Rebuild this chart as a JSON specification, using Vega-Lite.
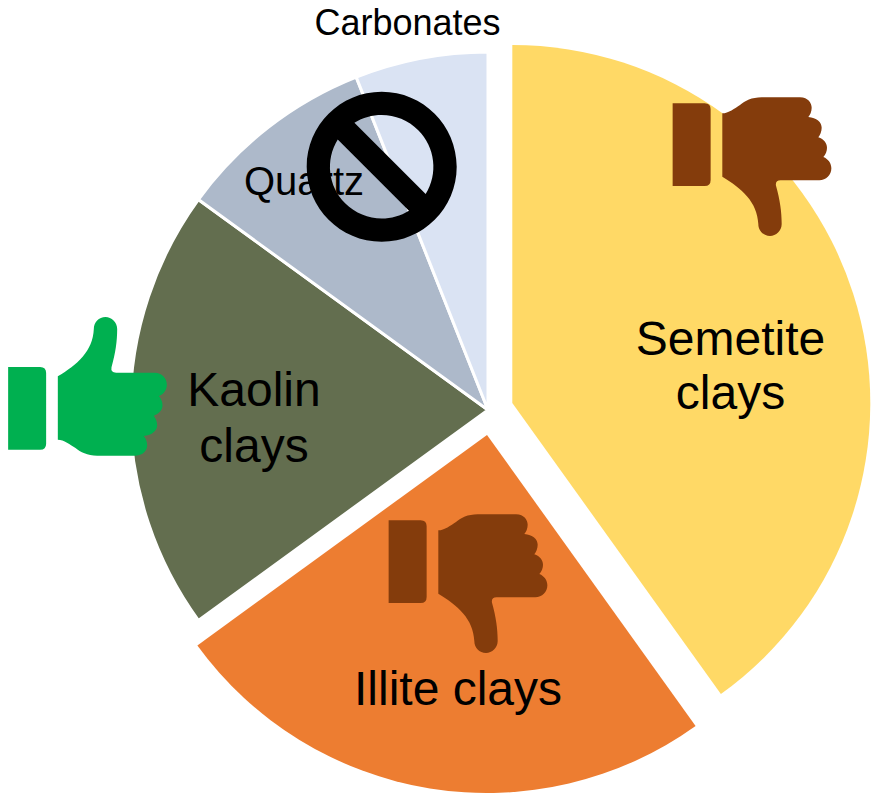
{
"$schema":"https://vega.github.io/schema/vega-lite/v6.json",
"width":871,"height":793,"padding":0,"autosize":{"type":"fit","contains":"padding"},
"background":"white",
"config":{"view":{"stroke":null}},
"datasets":{
"slices":[
{"slice":"Semetite clays","value":40.1,"order":1,"label":"Semetite\nclays"},
{"slice":"Illite clays","value":24.9,"order":2,"label":"Illite clays"},
{"slice":"Kaolin clays","value":20,"order":3,"label":"Kaolin\nclays"},
{"slice":"Quartz","value":9,"order":4,"label":"Quartz"},
{"slice":"Carbonates","value":6,"order":5,"label":"Carbonates"}
]},
"data":{"name":"slices"},
"transform":[{"stack":"value","groupby":[],"sort":[{"field":"order","order":"ascending"}],"as":["v0","v1"]}],
"encoding":{},
"layer":[
{"transform":[{"filter":"datum.slice=='Kaolin clays'||datum.slice=='Quartz'||datum.slice=='Carbonates'"}],
 "mark":{"type":"arc","radius":358,"xOffset":52.5,"yOffset":13.5,"stroke":"white","strokeWidth":3},
 "encoding":{"theta":{"field":"v0","type":"quantitative","stack":null,"scale":{"domain":[0,100]}},"theta2":{"field":"v1"},
 "color":{"field":"slice","type":"nominal","legend":null,"scale":{"domain":["Semetite clays","Illite clays","Kaolin clays","Quartz","Carbonates"],"range":["#FFD966","#ED7D31","#636E4F","#ADB9CA","#DAE3F3"]}}}},
{"transform":[{"filter":"datum.slice=='Semetite clays'"}],
 "mark":{"type":"arc","radius":358,"xOffset":76.8,"yOffset":6.5},
 "encoding":{"theta":{"field":"v0","type":"quantitative","stack":null,"scale":{"domain":[0,100]}},"theta2":{"field":"v1"},
 "color":{"field":"slice","type":"nominal","legend":null}}},
{"transform":[{"filter":"datum.slice=='Illite clays'"}],
 "mark":{"type":"arc","radius":358,"xOffset":51.5,"yOffset":38.5},
 "encoding":{"theta":{"field":"v0","type":"quantitative","stack":null,"scale":{"domain":[0,100]}},"theta2":{"field":"v1"},
 "color":{"field":"slice","type":"nominal","legend":null}}},
{"transform":[{"filter":"datum.slice=='Semetite clays'"}],
 "mark":{"type":"text","font":"Liberation Sans","fontSize":48,"lineBreak":"\n","lineHeight":54,"align":"center","baseline":"alphabetic","color":"black","xOffset":295,"yOffset":-41.5},
 "encoding":{"text":{"field":"label"}}},
{"transform":[{"filter":"datum.slice=='Illite clays'"}],
 "mark":{"type":"text","font":"Liberation Sans","fontSize":48,"align":"center","baseline":"alphabetic","color":"black","xOffset":22.5,"yOffset":308.5},
 "encoding":{"text":{"field":"label"}}},
{"transform":[{"filter":"datum.slice=='Kaolin clays'"}],
 "mark":{"type":"text","font":"Liberation Sans","fontSize":48,"lineBreak":"\n","lineHeight":56,"align":"center","baseline":"alphabetic","color":"black","xOffset":-181.5,"yOffset":9.5},
 "encoding":{"text":{"field":"label"}}},
{"transform":[{"filter":"datum.slice=='Quartz'"}],
 "mark":{"type":"text","font":"Liberation Sans","fontSize":40,"align":"center","baseline":"alphabetic","color":"black","xOffset":-131.5,"yOffset":-201.5},
 "encoding":{"text":{"field":"label"}}},
{"transform":[{"filter":"datum.slice=='Carbonates'"}],
 "mark":{"type":"text","font":"Liberation Sans","fontSize":36,"align":"center","baseline":"alphabetic","color":"black","xOffset":-28,"yOffset":-361.5},
 "encoding":{"text":{"field":"label"}}},
{"data":{"values":[{"icon":"thumb down","on":"Semetite clays"},{"icon":"thumb down","on":"Illite clays"}]},
 "transform":[{"filter":"datum.on=='Semetite clays'"}],
 "mark":{"type":"point","filled":true,"opacity":1,"color":"#843C0C","size":25600,"xOffset":316.5,"yOffset":-230.5,
 "shape":"M-0.992,-0.783 L-0.592,-0.783 Q-0.517,-0.783 -0.517,-0.708 L-0.517,0.175 Q-0.517,0.25 -0.592,0.25 L-0.992,0.25 Z M-0.371,-0.658 C-0.296,-0.658,-0.213,-0.721,-0.15,-0.7625 C-0.0875,-0.8125,-0.004,-0.858,0.121,-0.858 L0.6,-0.858 C0.704,-0.858,0.746,-0.783,0.746,-0.729 C0.746,-0.679,0.725,-0.6375,0.704,-0.6125 C0.808,-0.604,0.871,-0.546,0.871,-0.479 C0.871,-0.429,0.85,-0.3875,0.829,-0.358 C0.9,-0.333,0.9375,-0.283,0.9375,-0.229 C0.9375,-0.1875,0.921,-0.146,0.892,-0.1125 C0.954,-0.0875,0.992,-0.033,0.992,0.029 C0.992,0.113,0.925,0.179,0.842,0.179 L0.358,0.179 Q0.2875,0.179,0.3,0.246 C0.35,0.425,0.371,0.571,0.371,0.725 C0.371,0.808,0.3,0.875,0.225,0.875 C0.142,0.875,0.079,0.808,0.079,0.725 C0.067,0.446,-0.129,0.279,-0.371,0.133 Z"},
 "encoding":{}},
{"data":{"values":[{"icon":"thumb down","on":"Semetite clays"},{"icon":"thumb down","on":"Illite clays"}]},
 "transform":[{"filter":"datum.on=='Illite clays'"}],
 "mark":{"type":"point","filled":true,"opacity":1,"color":"#843C0C","size":25600,"xOffset":32.5,"yOffset":186.5,
 "shape":"M-0.992,-0.783 L-0.592,-0.783 Q-0.517,-0.783 -0.517,-0.708 L-0.517,0.175 Q-0.517,0.25 -0.592,0.25 L-0.992,0.25 Z M-0.371,-0.658 C-0.296,-0.658,-0.213,-0.721,-0.15,-0.7625 C-0.0875,-0.8125,-0.004,-0.858,0.121,-0.858 L0.6,-0.858 C0.704,-0.858,0.746,-0.783,0.746,-0.729 C0.746,-0.679,0.725,-0.6375,0.704,-0.6125 C0.808,-0.604,0.871,-0.546,0.871,-0.479 C0.871,-0.429,0.85,-0.3875,0.829,-0.358 C0.9,-0.333,0.9375,-0.283,0.9375,-0.229 C0.9375,-0.1875,0.921,-0.146,0.892,-0.1125 C0.954,-0.0875,0.992,-0.033,0.992,0.029 C0.992,0.113,0.925,0.179,0.842,0.179 L0.358,0.179 Q0.2875,0.179,0.3,0.246 C0.35,0.425,0.371,0.571,0.371,0.725 C0.371,0.808,0.3,0.875,0.225,0.875 C0.142,0.875,0.079,0.808,0.079,0.725 C0.067,0.446,-0.129,0.279,-0.371,0.133 Z"},
 "encoding":{}},
{"data":{"values":[{"icon":"thumb up","on":"Kaolin clays"}]},
 "mark":{"type":"point","filled":true,"opacity":1,"color":"#00B050","size":25600,"xOffset":-348,"yOffset":-9.5,
 "shape":"M-0.992,0.783 L-0.592,0.783 Q-0.517,0.783 -0.517,0.708 L-0.517,-0.175 Q-0.517,-0.25 -0.592,-0.25 L-0.992,-0.25 Z M-0.371,0.658 C-0.296,0.658,-0.213,0.721,-0.15,0.7625 C-0.0875,0.8125,-0.004,0.858,0.121,0.858 L0.6,0.858 C0.704,0.858,0.746,0.783,0.746,0.729 C0.746,0.679,0.725,0.6375,0.704,0.6125 C0.808,0.604,0.871,0.546,0.871,0.479 C0.871,0.429,0.85,0.3875,0.829,0.358 C0.9,0.333,0.9375,0.283,0.9375,0.229 C0.9375,0.1875,0.921,0.146,0.892,0.1125 C0.954,0.0875,0.992,0.033,0.992,-0.029 C0.992,-0.113,0.925,-0.179,0.842,-0.179 L0.358,-0.179 Q0.2875,-0.179,0.3,-0.246 C0.35,-0.425,0.371,-0.571,0.371,-0.725 C0.371,-0.808,0.3,-0.875,0.225,-0.875 C0.142,-0.875,0.079,-0.808,0.079,-0.725 C0.067,-0.446,-0.129,-0.279,-0.371,-0.133 Z"},
 "encoding":{}},
{"data":{"values":[{"icon":"no sign","on":"Quartz"}]},
 "mark":{"type":"point","filled":true,"opacity":1,"color":"black","size":22500,"xOffset":-53.8,"yOffset":-229.8,
 "shape":"M0,-1 A1,1 0 1 1 0,1 A1,1 0 1 1 0,-1 Z M-0.586,-0.364 A0.69,0.69 0 0 0 0.364,0.586 Z M0.586,0.364 A0.69,0.69 0 0 0 -0.364,-0.586 Z"},
 "encoding":{}}
]
}
